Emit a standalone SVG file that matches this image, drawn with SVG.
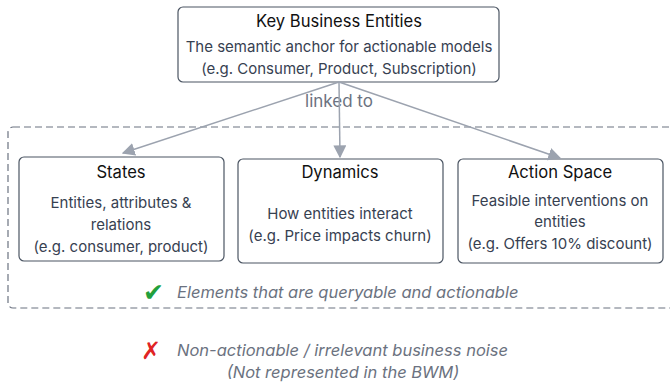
<svg xmlns="http://www.w3.org/2000/svg" width="670" height="386" viewBox="0 0 670 386">
<defs>
<marker id="arr" viewBox="0 0 10 10" refX="9" refY="5" markerWidth="13" markerHeight="13" markerUnits="userSpaceOnUse" orient="auto">
<path d="M0,0 L10,5 L0,10 z" fill="#9ca3af"/>
</marker>
<style>
.box{fill:#fff;stroke:#4b5563;stroke-width:1.2}
.t{font-family:Inter,"Liberation Sans",sans-serif;font-size:16.6px;fill:#111;text-anchor:middle}
.b{font-family:Inter,"Liberation Sans",sans-serif;font-size:15px;fill:#374151;text-anchor:middle}
.g{font-family:Inter,"Liberation Sans",sans-serif;font-size:16.5px;fill:#6b7280;font-style:italic}
.c{fill:none;stroke:#9ca3af;stroke-width:1.5}
</style>
</defs>
<rect x="8" y="127" width="672" height="181" rx="5" fill="none" stroke="#6b7280" stroke-width="1.2" stroke-dasharray="7 4"/>
<g id="key">
<rect class="box" x="178" y="7" width="321" height="75" rx="5"/>
<text class="t" x="339" y="27">Key Business Entities</text>
<text class="b" x="339" y="52">The semantic anchor for actionable models</text>
<text class="b" x="339" y="74">(e.g. Consumer, Product, Subscription)</text>
</g>
<text class="b" x="339" y="107" style="fill:#6b7280;font-size:17px">linked to</text>
<g id="states">
<rect class="box" x="19" y="157" width="205" height="104" rx="5"/>
<text class="t" x="121" y="178">States</text>
<text class="b" x="121" y="208">Entities, attributes &amp;</text>
<text class="b" x="121" y="230">relations</text>
<text class="b" x="121" y="252">(e.g. consumer, product)</text>
</g>
<g id="dynamics">
<rect class="box" x="238" y="159" width="205" height="104" rx="5"/>
<text class="t" x="340" y="178">Dynamics</text>
<text class="b" x="340" y="219">How entities interact</text>
<text class="b" x="340" y="241">(e.g. Price impacts churn)</text>
</g>
<g id="action">
<rect class="box" x="458" y="159" width="205" height="104" rx="5"/>
<text class="t" x="560" y="178">Action Space</text>
<text class="b" x="560" y="206">Feasible interventions on</text>
<text class="b" x="560" y="227">entities</text>
<text class="b" x="560" y="249">(e.g. Offers 10% discount)</text>
</g>
<g id="connectors">
<line class="c" x1="339" y1="82" x2="123" y2="153" marker-end="url(#arr)"/>
<line class="c" x1="339" y1="82" x2="340" y2="157" marker-end="url(#arr)"/>
<line class="c" x1="339" y1="82" x2="560" y2="158" marker-end="url(#arr)"/>
</g>
<g id="legend">
<text x="143" y="301" style="font-family:'DejaVu Sans',sans-serif;font-size:25px;fill:#22a03c">✔</text>
<text class="g" x="177" y="298">Elements that are queryable and actionable</text>
<text x="141" y="359" style="font-family:'DejaVu Sans',sans-serif;font-size:24px;fill:#e02424">✗</text>
<text class="g" x="177" y="356">Non-actionable / irrelevant business noise</text>
<text class="g" x="343" y="378" text-anchor="middle">(Not represented in the BWM)</text>
</g>
</svg>
